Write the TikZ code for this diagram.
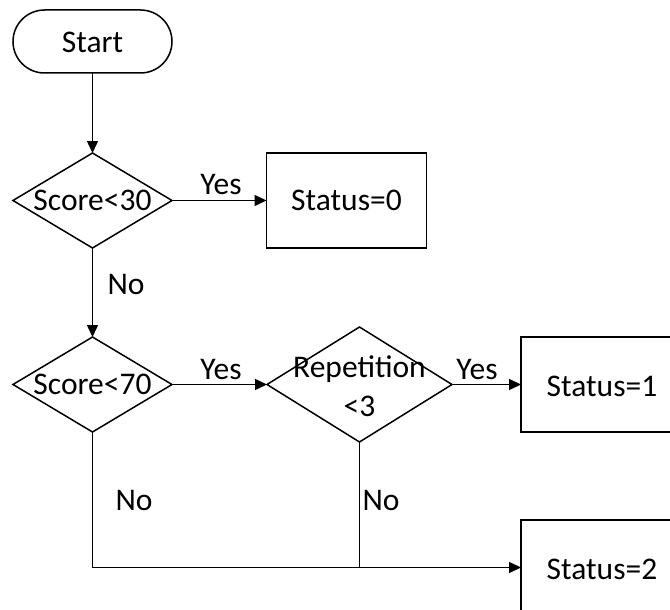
\documentclass[tikz,border=0pt]{standalone}
\usepackage{fontspec}
\setmainfont{Carlito}
\usetikzlibrary{shapes.geometric,arrows.meta}
\begin{document}
\begin{tikzpicture}[x=1pt,y=-1pt,
  every node/.style={font=\fontsize{31.5}{39}\selectfont},
  base/.style={draw,line width=1.5pt,outer sep=0pt,inner sep=0pt},
  terminal/.style={base,rectangle,rounded corners=31.5pt,minimum width=159pt,minimum height=63pt},
  decision/.style={base,diamond,minimum width=159pt,minimum height=95pt},
  process/.style={base,rectangle,minimum width=160pt,minimum height=95pt},
  txt/.style={inner sep=0pt,align=center},
  conn/.style={line width=1.5pt,-{Triangle[length=12pt,width=11pt]}},
  plain/.style={line width=1.5pt}]
\clip (0,0) rectangle (670,610);
\useasboundingbox (0,0) rectangle (670,610);
% nodes
\node[terminal] (start) at (92.5,41.5) {};
\node[txt] (tstart) at (92.5,42.5) {Start};
\node[decision] (d1) at (92.5,200.5) {};
\node[txt] (td1) at (d1) {Score<30};
\node[process] (b0) at (346.5,200.5) {};
\node[txt] (tb0) at (b0) {Status=0};
\node[decision] (d2) at (92.5,384.5) {};
\node[txt] (td2) at (d2) {Score<70};
\node[decision,minimum width=185pt,minimum height=115pt] (d3) at (359.5,384.5) {};
\node[txt] (td3) at (359.5,386) {Repetition\\<3};
\node[process] (b1) at (601,384.5) {};
\node[txt] (tb1) at (602,386) {Status=1};
\node[process] (b2) at (601,567.5) {};
\node[txt] (tb2) at (602,569) {Status=2};
\coordinate (j2) at (d2.south |- b2.west);
\coordinate (j3) at (d3.south |- b2.west);
% connectors
\draw[conn] (start.south) -- (d1.north);
\draw[conn] (d1.east) -- (b0.west);
\draw[conn] (d1.south) -- (d2.north);
\draw[conn] (d2.east) -- (d3.west);
\draw[conn] (d3.east) -- (b1.west);
\draw[plain] (d2.south) -- (j2);
\draw[conn] (j2) -- (b2.west);
\draw[plain] (d3.south) -- (j3);
% labels
\node[txt] (ly1) at (221,185) {Yes};
\node[txt] (ln1) at (126,285) {No};
\node[txt] (ly2) at (221,370) {Yes};
\node[txt] (ly3) at (477,370) {Yes};
\node[txt] (ln2) at (134,500) {No};
\node[txt] (ln3) at (381,500) {No};
\end{tikzpicture}
\end{document}
